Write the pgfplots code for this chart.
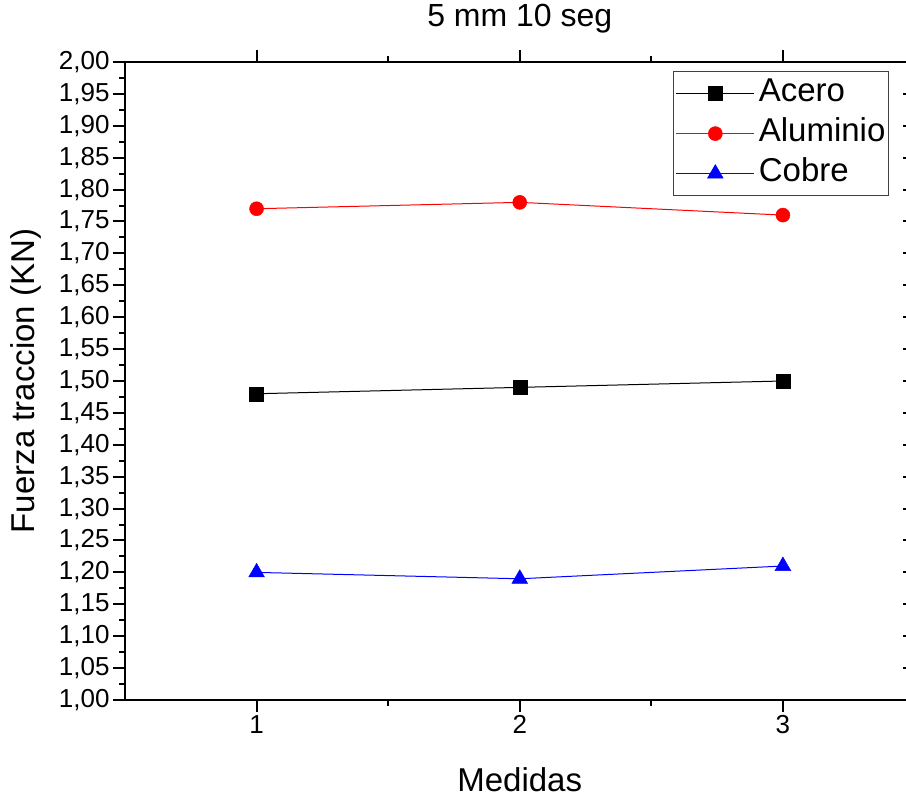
\documentclass[border=0pt]{standalone}
\usepackage{fontspec}
\setmainfont{Liberation Sans}
\usepackage{pgfplots}
\pgfplotsset{compat=1.18}
\begin{document}
\begin{tikzpicture}
\pgfplotsset{
  common/.style={
    scale only axis, width=789.5pt, height=638pt,
    xmin=0.5, xmax=3.5, ymin=1, ymax=2,
    at={(125pt,98pt)}, anchor=south west,
    xtick={1,2,3}, minor x tick num=1,
    ytick distance=0.05, minor y tick num=1,
    major tick length=12pt, minor tick length=6pt,
    every tick/.style={black, line width=2pt},
    axis line style={-, line width=2pt, black},
    tick label style={font=\fontsize{26}{30}\selectfont},
  }
}
\begin{axis}[common,
  axis x line*=bottom, axis y line*=left, tick align=outside,
  yticklabel style={/pgf/number format/.cd, fixed, fixed zerofill, precision=2, use comma, 1000 sep={}, assume math mode=true},
  xticklabel style={/pgf/number format/assume math mode=true},
  xlabel={Medidas}, ylabel={Fuerza traccion (KN)},
  xlabel style={font=\fontsize{33}{38}\selectfont, at={(axis description cs:0.5,-0.1245)}, anchor=center},
  ylabel style={font=\fontsize{33}{38}\selectfont, at={(axis description cs:-0.1254,0.5)}, anchor=center},
  title={5 mm 10 seg},
  title style={font=\fontsize{32}{38}\selectfont, at={(axis description cs:0.5,1.058)}, anchor=center},
  legend style={at={(0.9677,0.9859)}, anchor=north east, draw=black!75, line width=1.2pt,
    font=\fontsize{33}{38}\selectfont, cells={anchor=west}, row sep=0pt, column sep=3pt, inner sep=2pt,
    nodes={inner ysep=4pt, inner xsep=1pt, text height=24pt, text depth=8pt}},
  legend image code/.code={\draw[mark repeat=2,mark phase=2] plot coordinates {(0pt,0pt) (39pt,0pt) (78pt,0pt)};},
]
\addplot[black, line width=1pt, mark=square*, mark size=7pt, mark options={solid, line width=0.5pt}] coordinates {(1,1.48) (2,1.49) (3,1.50)};
\addlegendentry{Acero}
\addplot[red, line width=1pt, mark=*, mark size=7pt, mark options={solid, line width=0.5pt}] coordinates {(1,1.77) (2,1.78) (3,1.76)};
\addlegendentry{Aluminio}
\addplot[blue, line width=1pt, mark=triangle*, mark size=9pt, mark options={solid, line width=0.5pt}] coordinates {(1,1.20) (2,1.19) (3,1.21)};
\addlegendentry{Cobre}
\end{axis}
\begin{axis}[common, axis x line*=top, hide y axis, tick align=outside, xticklabels={}]
\end{axis}
\begin{axis}[common, axis y line*=right, hide x axis, tick align=inside, yticklabels={}]
\end{axis}
\pgfresetboundingbox
\path[use as bounding box] (0,0) rectangle (906pt,798pt);
\end{tikzpicture}
\end{document}
